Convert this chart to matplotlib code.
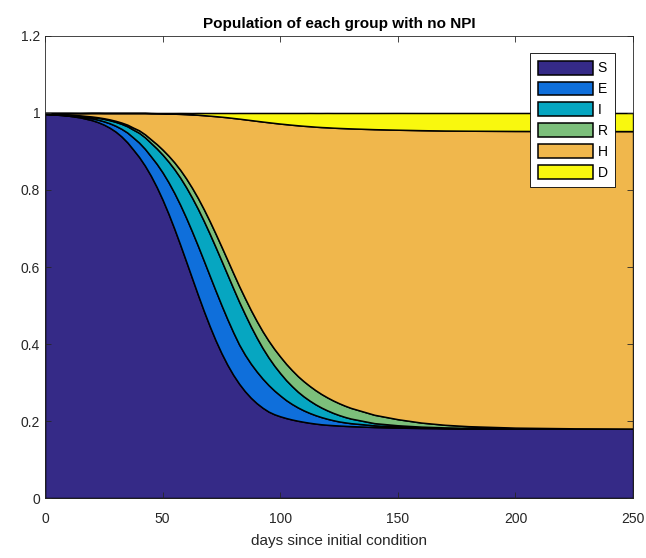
#!/usr/bin/env python3
"""Stacked population shares of each compartment, no-NPI scenario (values read off the original figure)."""
import matplotlib
matplotlib.use("Agg")
import matplotlib.pyplot as plt

days = [0, 5, 10, 15,
        20, 22.5, 25, 27.5, 30, 32.5, 35, 37.5, 40, 42.5, 45, 47.5, 50, 52.5, 55, 57.5,
        60, 62.5, 65, 67.5, 70, 72.5, 75, 77.5, 80, 82.5, 85, 87.5, 90, 92.5, 95, 97.5,
        100, 102.5, 105, 107.5, 110, 112.5, 115, 117.5, 120, 122.5, 125, 127.5, 130,
        140, 150, 160, 170, 180, 200, 225, 250]

S = [0.9974, 0.9957, 0.9930, 0.9886,
     0.9814, 0.9763, 0.9699, 0.9618, 0.9518, 0.9392, 0.9238, 0.9050, 0.8857, 0.8631,
     0.8371, 0.8076, 0.7746, 0.7383, 0.6990, 0.6575,
     0.6146, 0.5711, 0.5280, 0.4862, 0.4467, 0.4099, 0.3765, 0.3465, 0.3201, 0.2971,
     0.2773, 0.2605, 0.2463, 0.2345, 0.2246, 0.2175,
     0.2122, 0.2077, 0.2039, 0.2007, 0.1979, 0.1954, 0.1933, 0.1915, 0.1902, 0.1892,
     0.1883, 0.1874, 0.1867,
     0.1844, 0.1828, 0.1819, 0.1812, 0.1808, 0.1804, 0.1801, 0.1800]
E = [0.0003, 0.0007, 0.0013, 0.0025,
     0.0048, 0.0065, 0.0086, 0.0115, 0.0150, 0.0197, 0.0254, 0.0313, 0.0374, 0.0437,
     0.0505, 0.0603, 0.0709, 0.0819, 0.0931, 0.1038,
     0.1133, 0.1212, 0.1271, 0.1304, 0.1310, 0.1291, 0.1247, 0.1185, 0.1106, 0.1018,
     0.0950, 0.0885, 0.0823, 0.0756, 0.0690, 0.0615,
     0.0540, 0.0465, 0.0402, 0.0345, 0.0296, 0.0255, 0.0218, 0.0186, 0.0156, 0.0129,
     0.0106, 0.0091, 0.0077,
     0.0044, 0.0026, 0.0014, 0.0009, 0.0006, 0.0002, 0.0001, 0.0000]
I = [0.0005, 0.0008, 0.0014, 0.0023,
     0.0039, 0.0050, 0.0064, 0.0081, 0.0103, 0.0130, 0.0163, 0.0205, 0.0254, 0.0300,
     0.0348, 0.0400, 0.0462, 0.0535, 0.0619, 0.0706,
     0.0793, 0.0879, 0.0960, 0.1031, 0.1089, 0.1130, 0.1154, 0.1158, 0.1143, 0.1112,
     0.1050, 0.0968, 0.0880, 0.0795, 0.0718, 0.0646,
     0.0580, 0.0520, 0.0464, 0.0409, 0.0363, 0.0321, 0.0282, 0.0248, 0.0218, 0.0190,
     0.0166, 0.0141, 0.0120,
     0.0057, 0.0035, 0.0021, 0.0013, 0.0008, 0.0004, 0.0002, 0.0002]
R = [0.0000, 0.0001, 0.0002, 0.0004,
     0.0008, 0.0011, 0.0015, 0.0020, 0.0026, 0.0033, 0.0042, 0.0052, 0.0064, 0.0078,
     0.0094, 0.0112, 0.0132, 0.0154, 0.0178, 0.0203,
     0.0229, 0.0255, 0.0281, 0.0305, 0.0327, 0.0347, 0.0365, 0.0381, 0.0395, 0.0407,
     0.0417, 0.0425, 0.0431, 0.0434, 0.0435, 0.0434,
     0.0431, 0.0424, 0.0415, 0.0405, 0.0394, 0.0381, 0.0367, 0.0352, 0.0337, 0.0322,
     0.0307, 0.0292, 0.0277,
     0.0217, 0.0158, 0.0105, 0.0068, 0.0044, 0.0018, 0.0006, 0.0002]
H = [0.0018, 0.0027, 0.0041, 0.0061,
     0.0092, 0.0112, 0.0136, 0.0166, 0.0203, 0.0248, 0.0303, 0.0380, 0.0451, 0.0554,
     0.0677, 0.0802, 0.0941, 0.1095, 0.1264, 0.1455,
     0.1669, 0.1904, 0.2162, 0.2441, 0.2738, 0.3051, 0.3373, 0.3700, 0.4026, 0.4346,
     0.4645, 0.4933, 0.5200, 0.5448, 0.5671, 0.5872,
     0.6052, 0.6224, 0.6375, 0.6515, 0.6636, 0.6746, 0.6845, 0.6934, 0.7015, 0.7086,
     0.7150, 0.7208, 0.7259,
     0.7418, 0.7519, 0.7595, 0.7643, 0.7674, 0.7706, 0.7721, 0.7726]
D = [0.0000, 0.0000, 0.0000, 0.0000,
     0.0000, 0.0000, 0.0000, 0.0000, 0.0000, 0.0000, 0.0000, 0.0000, 0.0000, 0.0000,
     0.0005, 0.0007, 0.0010, 0.0014, 0.0018, 0.0024,
     0.0030, 0.0038, 0.0047, 0.0057, 0.0069, 0.0082, 0.0096, 0.0111, 0.0128, 0.0146,
     0.0165, 0.0184, 0.0203, 0.0222, 0.0240, 0.0258,
     0.0275, 0.0290, 0.0305, 0.0319, 0.0332, 0.0344, 0.0355, 0.0365, 0.0373, 0.0381,
     0.0388, 0.0394, 0.0400,
     0.0420, 0.0435, 0.0446, 0.0455, 0.0460, 0.0466, 0.0469, 0.0470]

groups = ["S", "E", "I", "R", "H", "D"]
colors = ["#352a87", "#0f6fdb", "#06a6c1", "#7cbf7b", "#f0b74c", "#f9f80e"]

x_ticks = [0, 50, 100, 150, 200, 250]
y_ticks = [0, 0.2, 0.4, 0.6, 0.8, 1.0, 1.2]
y_ticklabels = ["0", "0.2", "0.4", "0.6", "0.8", "1", "1.2"]

for series in (S, E, I, R, H, D):
    assert len(series) == len(days)

plt.rcParams["font.family"] = ["Liberation Sans", "DejaVu Sans"]

fig = plt.figure(figsize=(6.46, 5.58), dpi=100)
ax = fig.add_axes([0.0697, 0.1075, 0.9103, 0.828])

ax.stackplot(days, S, E, I, R, H, D, colors=colors, labels=groups,
             edgecolor="black", linewidth=1.1)

ax.set_xlim(0, 250)
ax.set_ylim(0, 1.2)
ax.set_xticks(x_ticks)
ax.set_yticks(y_ticks)
ax.set_yticklabels(y_ticklabels)
ax.tick_params(direction="in", top=True, right=True, length=4, width=0.6,
               labelsize=10, colors="#262626")
ax.tick_params(axis="x", pad=10)
for sp in ax.spines.values():
    sp.set_linewidth(0.6)
    sp.set_color("#262626")

ax.set_title("Population of each group with no NPI", fontsize=11, fontweight="bold", pad=6)
ax.set_xlabel("days since initial condition", fontsize=11, color="#262626", labelpad=6)

leg = ax.legend(loc="upper right", bbox_to_anchor=(0.9694, 0.963), borderaxespad=0,
                fancybox=False, framealpha=1, edgecolor="black", fontsize=10,
                handlelength=4.0, handleheight=1.15, handletextpad=0.3,
                labelspacing=0.45, borderpad=0.55)
leg.get_frame().set_linewidth(0.6)

fig.savefig("out.png", dpi=100)
